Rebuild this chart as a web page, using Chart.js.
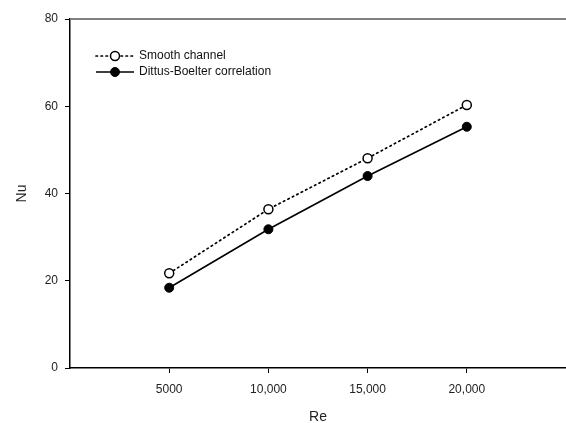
<!DOCTYPE html>
<html>
<head>
<meta charset="utf-8">
<script src="https://cdn.jsdelivr.net/npm/chart.js@4.4.1/dist/chart.umd.min.js"></script>
<style>
  html, body { margin: 0; padding: 0; background: #fff; }
  #wrap { width: 566px; height: 423px; }
</style>
</head>
<body>
<div id="wrap"><canvas id="myChart"></canvas></div>
<script>
// data
const reValues = [5000, 10000, 15000, 20000];
const reLabels = ["5000", "10,000", "15,000", "20,000"];
const smoothNu = [21.7, 36.4, 48.1, 60.3];
const dittusNu = [18.4, 31.8, 44.0, 55.3];
const nuTicks = [0, 20, 40, 60, 80];
const seriesNames = ["Smooth channel", "Dittus-Boelter correlation"];

const FONT = "'Liberation Sans', Arial, sans-serif";

function toPoints(ys) {
  return reValues.map((x, i) => ({ x: x, y: ys[i] }));
}

// top frame line (gray) + legend drawn by hand
const framePlugin = {
  id: "frame",
  afterDraw(chart) {
    const ctx = chart.ctx;
    const a = chart.chartArea;
    ctx.save();
    ctx.strokeStyle = "#808080";
    ctx.lineWidth = 2;
    ctx.beginPath();
    ctx.moveTo(a.left, a.top);
    ctx.lineTo(chart.width, a.top);
    ctx.stroke();

    // legend
    const rows = [56, 72];
    chart.data.datasets.forEach((ds, i) => {
      const y = rows[i];
      ctx.strokeStyle = "#000";
      ctx.lineWidth = ds.borderWidth;
      ctx.setLineDash(ds.borderDash || []);
      ctx.lineCap = ds.borderCapStyle || "butt";
      ctx.beginPath();
      ctx.moveTo(96, y);
      ctx.lineTo(134, y);
      ctx.stroke();
      ctx.setLineDash([]);
      ctx.beginPath();
      ctx.arc(115, y, ds.pointRadius, 0, Math.PI * 2);
      ctx.fillStyle = ds.pointBackgroundColor;
      ctx.fill();
      ctx.lineWidth = ds.pointBorderWidth;
      ctx.stroke();
      ctx.fillStyle = "#111";
      ctx.font = "12px " + FONT;
      ctx.textBaseline = "middle";
      ctx.fillText(ds.label, 139, y);
    });
    ctx.restore();
  }
};

new Chart(document.getElementById("myChart"), {
  type: "line",
  data: {
    datasets: [
      {
        label: seriesNames[0],
        data: toPoints(smoothNu),
        borderColor: "#000",
        borderWidth: 1.7,
        borderDash: [1.5, 3.5],
        borderCapStyle: "round",
        pointRadius: 4.5,
        pointBorderWidth: 1.5,
        pointBackgroundColor: "#fff",
        pointBorderColor: "#000",
        fill: false,
        tension: 0
      },
      {
        label: seriesNames[1],
        data: toPoints(dittusNu),
        borderColor: "#000",
        borderWidth: 1.6,
        pointRadius: 4.5,
        pointBorderWidth: 1,
        pointBackgroundColor: "#000",
        pointBorderColor: "#000",
        fill: false,
        tension: 0
      }
    ]
  },
  options: {
    responsive: true,
    maintainAspectRatio: false,
    animation: false,
    layout: { autoPadding: false, padding: { top: 19, right: 0, left: 0, bottom: 0 } },
    plugins: { legend: { display: false }, tooltip: { enabled: false } },
    scales: {
      x: {
        type: "linear",
        min: 0,
        max: 25000,
        afterFit: s => { s.height = 55; s.paddingLeft = 0; s.paddingRight = 0; },
        afterBuildTicks: s => { s.ticks = reValues.map(v => ({ value: v })); },
        grid: { drawOnChartArea: false, drawTicks: true, tickLength: 5, color: "#000" },
        border: { display: true, color: "#000", width: 1.5 },
        ticks: {
          color: "#222",
          font: { family: FONT, size: 12 },
          padding: 9,
          maxRotation: 0,
          callback: v => reLabels[reValues.indexOf(v)] || ""
        },
        title: {
          display: true,
          text: "Re",
          color: "#222",
          font: { family: FONT, size: 14 },
          padding: { top: 0, bottom: -3 }
        }
      },
      y: {
        min: 0,
        max: 80,
        afterFit: s => { s.width = 70; },
        afterBuildTicks: s => { s.ticks = nuTicks.map(v => ({ value: v })); },
        grid: { drawOnChartArea: false, drawTicks: true, tickLength: 5, color: "#000" },
        border: { display: true, color: "#000", width: 1.5 },
        ticks: {
          color: "#222",
          font: { family: FONT, size: 12 },
          padding: 7
        },
        title: {
          display: true,
          text: "Nu",
          color: "#222",
          font: { family: FONT, size: 14 },
          padding: { top: 14, bottom: 0 }
        }
      }
    }
  },
  plugins: [framePlugin]
});
</script>
</body>
</html>
